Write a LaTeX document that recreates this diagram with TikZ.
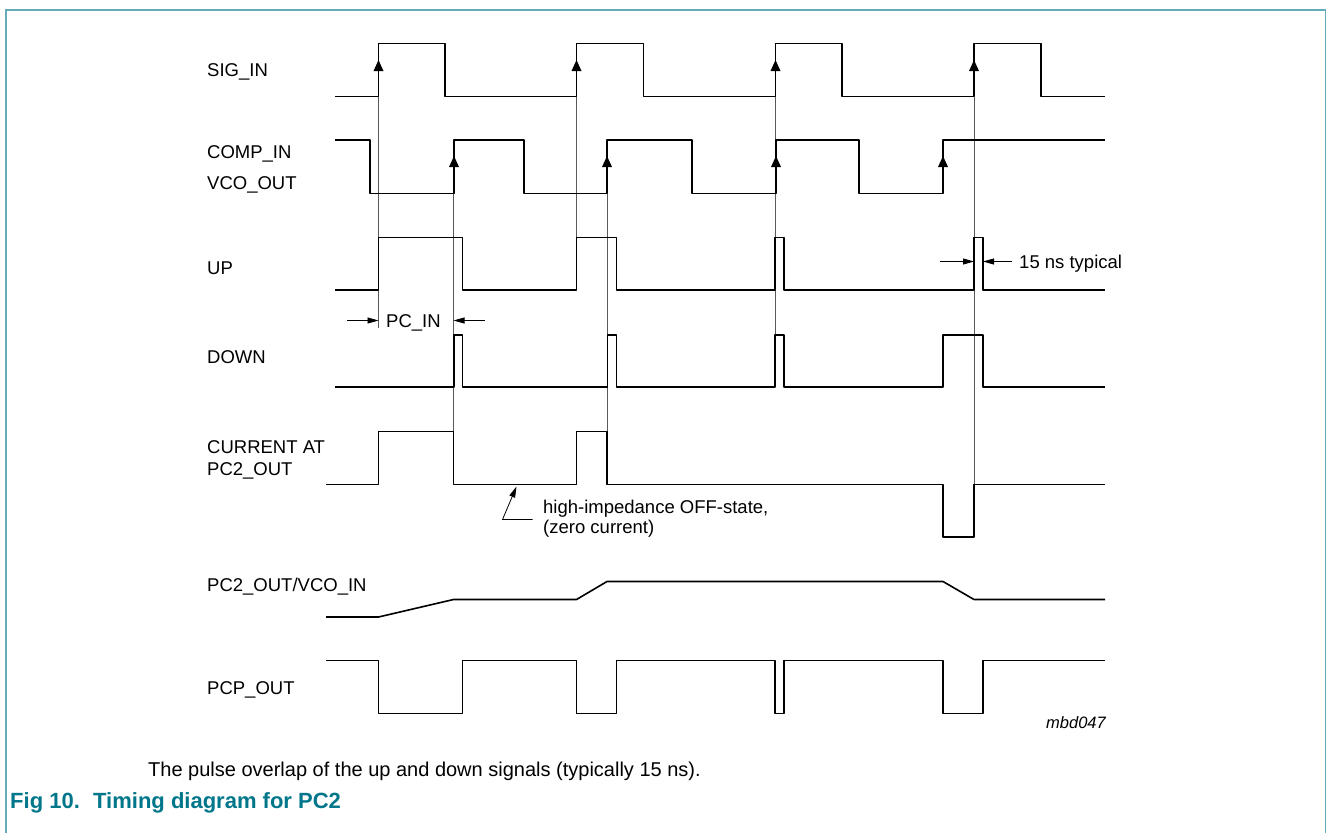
\documentclass[tikz,border=0pt]{standalone}
\usepackage{fontspec}
\setmainfont{Liberation Sans}
\usetikzlibrary{arrows.meta}
\definecolor{figteal}{RGB}{0,118,138}
\definecolor{frameteal}{RGB}{100,172,188}
\tikzset{
  wave/.style={line width=1.6pt, line join=round},
  guide/.style={line width=0.6pt, black!65},
  dim/.style={line width=0.8pt, -{Triangle[length=11pt,width=6pt]}},
  siglabel/.style={anchor=base west, inner sep=0pt, font=\fontsize{18.5}{20}\selectfont},
  figtext/.style={anchor=base west, inner sep=0pt, text=figteal, font=\fontsize{22}{24}\selectfont\bfseries},
}
\begin{document}
\begin{tikzpicture}[x=1pt, y=-1pt]
    \useasboundingbox (0,0) rectangle (1327,833);

    % Frame (open at the bottom)
    \draw[frameteal, line width=1.5pt] (6,833) -- (6,10) -- (1325.5,10) -- (1325.5,833);

    % Signal names
    \node[siglabel] (sigin) at (207,76.5) {SIG\_IN};
    \node[siglabel] (compin) at (207,158.5) {COMP\_IN};
    \node[siglabel] (vcoout) at (207,189.5) {VCO\_OUT};
    \node[siglabel] (up) at (207,274.5) {UP};
    \node[siglabel] (down) at (207,363.5) {DOWN};
    \node[siglabel] (curat) at (207,453.5) {CURRENT AT};
    \node[siglabel] (pctwo) at (207,475.5) {PC2\_OUT};
    \node[siglabel] (vcoin) at (207,591.5) {PC2\_OUT/VCO\_IN};
    \node[siglabel] (pcpout) at (207,694.5) {PCP\_OUT};

    % Thin guide lines from the edges
    \draw[guide] (378.5,96.5) -- (378.5,328);
    \draw[guide] (453.5,193.5) -- (453.5,431.5);
    \draw[guide] (576.5,96.5) -- (576.5,237.5);
    \draw[guide] (607,193.5) -- (607,431.5);
    \draw[guide] (775.5,96.5) -- (775.5,335);
    \draw[guide] (974,96.5) -- (974,484.5);

    % SIG_IN
    \draw[wave] (335,96.5) -| (378.5,43.5) -| (445,96.5) -| (576.5,43.5) -| (643.5,96.5)
      -| (775.5,43.5) -| (842,96.5) -| (974,43.5) -| (1041,96.5) -- (1105,96.5);
    % COMP_IN / VCO_OUT
    \draw[wave] (335,140) -| (370,193.5) -| (454,140) -| (524,193.5) -| (607,140)
      -| (692,193.5) -| (776,140) -| (859,193.5) -| (943,140) -- (1105,140);
    % UP
    \draw[wave] (335,290) -| (378.5,237.5) -| (462.5,290) -| (576.5,237.5) -| (616.5,290)
      -| (775,237.5) -| (784,290) -| (974,237.5) -| (983,290) -- (1105,290);
    % DOWN
    \draw[wave] (335,387) -| (454,335) -| (462.5,387) -| (607.5,335) -| (616.5,387)
      -| (775,335) -| (784,387) -| (943,335) -| (983,387) -- (1105,387);
    % CURRENT AT PC2_OUT
    \draw[wave] (326,484.5) -| (378.5,431.5) -| (453.5,484.5) -| (576.5,431.5) -| (607,484.5)
      -| (943,537) -| (974,484.5) -- (1105,484.5);
    % PC2_OUT/VCO_IN
    \draw[wave] (326,617) -- (378.5,617) -- (453.5,599.5) -- (576.5,599.5) -- (607,581.5)
      -- (943,581.5) -- (974,599.5) -- (1105,599.5);
    % PCP_OUT
    \draw[wave] (326,660.5) -| (378.5,713.5) -| (462.5,660.5) -| (576.5,713.5) -| (616.5,660.5)
      -| (775,713.5) -| (784,660.5) -| (943,713.5) -| (983,660.5) -- (1105,660.5);

    % Rising edge marks
    \foreach \x in {378.5,576.5,775.5,974}
      \fill (\x,60) -- ++(-5,11) -- ++(10,0) -- cycle;
    \foreach \x in {454,607,776,943}
      \fill (\x,156) -- ++(-5,11) -- ++(10,0) -- cycle;

    % PC_IN width
    \coordinate (pcinL) at (347,320.5);
    \coordinate (pcinA) at (378.5,320.5);
    \coordinate (pcinR) at (485,320.5);
    \coordinate (pcinB) at (453.5,320.5);
    \draw[dim] (pcinL) -- (pcinA);
    \draw[dim] (pcinR) -- (pcinB);
    \node[siglabel] (pcin) at (386,327) {PC\_IN};

    % 15 ns overlap
    \coordinate (typL) at (940,261.5);
    \coordinate (typA) at (974,261.5);
    \coordinate (typR) at (1012,261.5);
    \coordinate (typB) at (983,261.5);
    \draw[dim] (typL) -- (typA);
    \draw[dim] (typR) -- (typB);
    \node[siglabel] (typ) at (1019,268) {15 ns typical};

    % High-impedance note
    \node[siglabel] (hiz) at (543,513) {high-impedance OFF-state,};
    \node[siglabel] (zero) at (543,533) {(zero current)};
    \coordinate (hizA) at (532.5,519.5);
    \coordinate (hizB) at (502.5,519.5);
    \coordinate (hizC) at (516.5,486.5);
    \draw[dim] (hizA) -- (hizB) -- (hizC);

    % Drawing code
    \node[anchor=base east, inner sep=0pt, font=\fontsize{16.5}{18}\selectfont\itshape] (mbd) at (1106,728.5) {mbd047};

    % Caption
    \node[anchor=base west, inner sep=0pt, font=\fontsize{20}{22}\selectfont] (note) at (148,776) {The pulse overlap of the up and down signals (typically 15 ns).};
    \node[figtext] (fignum) at (10,808) {Fig 10.};
    \node[figtext] (figtitle) at (93,808) {Timing diagram for PC2};
\end{tikzpicture}
\end{document}
